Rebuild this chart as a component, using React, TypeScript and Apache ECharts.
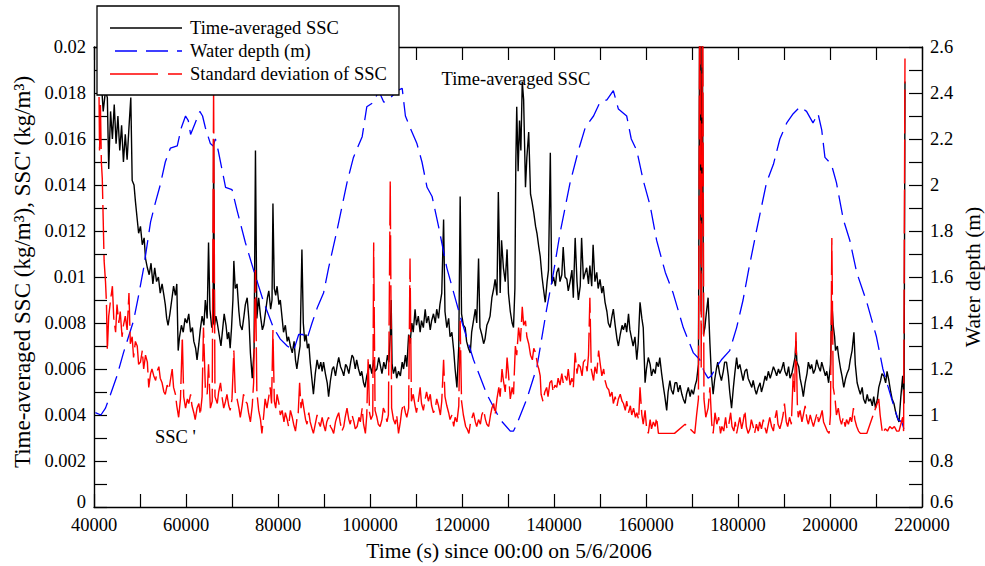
import React, { useEffect, useRef } from "react";
import * as echarts from "echarts";

// Time-averaged SSC (kg/m^3): [time (s), value]
const SSC: [number, number][] = [
  [41000, 0.0195], [41500, 0.0188], [42000, 0.0172], [42500, 0.0181], [42900, 0.0178], [43200, 0.0147],
  [43600, 0.0172], [44000, 0.016], [44400, 0.0175], [44800, 0.0158], [45200, 0.017], [45600, 0.0155],
  [46000, 0.0166], [46400, 0.015], [46800, 0.0162], [47200, 0.0151], [47600, 0.0165], [48000, 0.0178],
  [48300, 0.0142], [48700, 0.014], [49000, 0.0133], [49400, 0.0125], [49700, 0.0119], [50100, 0.0122],
  [50500, 0.0114], [50900, 0.0117], [51200, 0.0108], [51600, 0.0104], [52000, 0.0101], [52400, 0.0106],
  [52800, 0.0097], [53200, 0.0104], [53600, 0.0098], [54000, 0.01], [54400, 0.0093], [54800, 0.0097],
  [55200, 0.0092], [55500, 0.0088], [55800, 0.0082], [56100, 0.0079], [56500, 0.0084], [56900, 0.009],
  [57300, 0.0096], [57700, 0.0092], [58000, 0.0097], [58300, 0.0068], [58600, 0.0074], [59000, 0.0079],
  [59400, 0.0076], [59800, 0.0082], [60200, 0.008], [60600, 0.0084], [61000, 0.0076], [61400, 0.0078],
  [61700, 0.0072], [62100, 0.0069], [62400, 0.0064], [62800, 0.0071], [63100, 0.0077], [63500, 0.0083],
  [63900, 0.0079], [64200, 0.009], [64600, 0.0082], [64900, 0.0115], [65200, 0.0086], [65600, 0.0078],
  [65900, 0.008], [66000, 0.016], [66200, 0.0079], [66500, 0.0083], [66800, 0.008], [67200, 0.0075],
  [67600, 0.007], [68000, 0.0078], [68300, 0.0084], [68700, 0.0079], [69000, 0.0073], [69300, 0.0076],
  [69600, 0.0069], [69900, 0.0078], [70200, 0.009], [70400, 0.0107], [70700, 0.0095], [71100, 0.0097],
  [71500, 0.0085], [71800, 0.0079], [72200, 0.0077], [72600, 0.0083], [72900, 0.0088], [73300, 0.0091],
  [73700, 0.0081], [74000, 0.0067], [74400, 0.0056], [74800, 0.0068], [75100, 0.0155], [75400, 0.0082],
  [75800, 0.0091], [76200, 0.0083], [76600, 0.0077], [76900, 0.0079], [77300, 0.0085], [77700, 0.0091],
  [78000, 0.0094], [78400, 0.0086], [78700, 0.009], [78900, 0.0132], [79200, 0.0095], [79500, 0.0092],
  [79800, 0.0096], [80200, 0.0088], [80500, 0.009], [80900, 0.0082], [81200, 0.0076], [81600, 0.0079],
  [82000, 0.0072], [82300, 0.0074], [82700, 0.007], [83100, 0.0067], [83500, 0.0072], [83800, 0.0064],
  [84100, 0.006], [84500, 0.0066], [84800, 0.007], [85200, 0.0112], [85500, 0.008], [85800, 0.0072],
  [86100, 0.0075], [86400, 0.0069], [86700, 0.0071], [87000, 0.0063], [87400, 0.0055], [87700, 0.0049],
  [88100, 0.0058], [88500, 0.0064], [88900, 0.006], [89300, 0.0063], [89600, 0.0059], [89900, 0.0063],
  [90300, 0.0058], [90700, 0.0054], [91000, 0.0048], [91400, 0.0055], [91800, 0.006], [92100, 0.0061],
  [92500, 0.0057], [92900, 0.0062], [93200, 0.0065], [93600, 0.0061], [94000, 0.0059], [94300, 0.0057],
  [94700, 0.0062], [95000, 0.0061], [95400, 0.0058], [95800, 0.0063], [96100, 0.0066], [96400, 0.0065],
  [96800, 0.006], [97100, 0.0064], [97500, 0.006], [97900, 0.0057], [98200, 0.0059], [98600, 0.0054],
  [98900, 0.0052], [99300, 0.0057], [99700, 0.006], [100000, 0.0062], [100400, 0.0058], [100800, 0.0064],
  [101100, 0.0059], [101500, 0.006], [101900, 0.0065], [102300, 0.0061], [102600, 0.0058], [103000, 0.0063],
  [103400, 0.006], [103800, 0.0066], [104100, 0.0063], [104400, 0.0075], [104600, 0.009], [104800, 0.0062],
  [105100, 0.0058], [105500, 0.0061], [105800, 0.0056], [106200, 0.0059], [106600, 0.0057], [107000, 0.0063],
  [107300, 0.006], [107700, 0.0066], [108000, 0.0061], [108400, 0.0075], [108700, 0.0071], [109100, 0.008],
  [109400, 0.0076], [109800, 0.0086], [110100, 0.0079], [110500, 0.0083], [110900, 0.0076], [111200, 0.0081],
  [111600, 0.0078], [112000, 0.0086], [112300, 0.008], [112700, 0.0083], [113100, 0.0077], [113400, 0.0081],
  [113800, 0.0084], [114200, 0.008], [114500, 0.0086], [114900, 0.0082], [115200, 0.0088], [115600, 0.0093],
  [116000, 0.0125], [116300, 0.0085], [116700, 0.0078], [117100, 0.0082], [117400, 0.0074], [117800, 0.0076],
  [118200, 0.0068], [118500, 0.006], [118900, 0.0052], [119300, 0.007], [119600, 0.0135], [119900, 0.0084],
  [120300, 0.0079], [120700, 0.0078], [121000, 0.0072], [121400, 0.0069], [121800, 0.0067], [122100, 0.0076],
  [122500, 0.0081], [122900, 0.0086], [123200, 0.008], [123600, 0.0108], [123900, 0.0078], [124300, 0.0075],
  [124700, 0.0071], [125000, 0.0073], [125400, 0.0079], [125800, 0.0081], [126100, 0.0083], [126500, 0.0091],
  [126900, 0.0095], [127200, 0.0099], [127600, 0.0092], [127900, 0.0137], [128300, 0.0093], [128600, 0.0116],
  [129000, 0.0104], [129400, 0.0098], [129800, 0.0112], [130100, 0.0093], [130500, 0.0085], [130900, 0.008],
  [131200, 0.0078], [131500, 0.0095], [131700, 0.015], [131900, 0.0174], [132200, 0.0146], [132500, 0.0168],
  [132800, 0.0155], [133100, 0.0185], [133400, 0.0177], [133600, 0.0158], [133800, 0.0139], [134100, 0.0152],
  [134500, 0.0163], [134900, 0.0136], [135200, 0.0133], [135600, 0.0128], [136000, 0.0122], [136300, 0.0119],
  [136700, 0.0113], [137000, 0.0109], [137400, 0.01], [137700, 0.0095], [138100, 0.0089], [138500, 0.0098],
  [138800, 0.0103], [139200, 0.0154], [139500, 0.0097], [139900, 0.01], [140300, 0.0096], [140600, 0.0102],
  [141000, 0.0104], [141300, 0.0098], [141700, 0.0101], [142000, 0.0113], [142400, 0.01], [142800, 0.0099],
  [143100, 0.0094], [143500, 0.0098], [143900, 0.0103], [144200, 0.0091], [144600, 0.0117], [145000, 0.0098],
  [145300, 0.009], [145700, 0.0096], [146000, 0.0117], [146400, 0.0099], [146800, 0.0102], [147100, 0.0104],
  [147500, 0.0097], [147800, 0.0105], [148200, 0.0096], [148500, 0.0114], [148900, 0.0098], [149300, 0.0102],
  [149600, 0.0095], [150000, 0.0099], [150400, 0.0093], [150700, 0.0096], [151100, 0.0089], [151500, 0.0085],
  [151800, 0.008], [152200, 0.0078], [152600, 0.0083], [152900, 0.0086], [153300, 0.0079], [153700, 0.0073],
  [154000, 0.007], [154400, 0.0075], [154800, 0.0079], [155100, 0.0077], [155500, 0.008], [155800, 0.0076],
  [156200, 0.0084], [156500, 0.0077], [156900, 0.0073], [157200, 0.007], [157600, 0.0074], [158000, 0.0064],
  [158300, 0.0071], [158700, 0.0089], [159100, 0.0082], [159400, 0.0078], [159800, 0.0054], [160100, 0.006],
  [160500, 0.0065], [160900, 0.0062], [161200, 0.0057], [161600, 0.006], [162000, 0.0058], [162300, 0.0063],
  [162700, 0.0061], [163000, 0.0065], [163400, 0.0058], [163800, 0.0052], [164100, 0.0048], [164500, 0.0042],
  [164800, 0.005], [165200, 0.0055], [165500, 0.0051], [165900, 0.0049], [166300, 0.0054], [166700, 0.0054],
  [167000, 0.005], [167400, 0.0053], [167800, 0.0049], [168100, 0.0047], [168500, 0.0045], [168800, 0.0049],
  [169200, 0.0052], [169600, 0.0048], [169900, 0.0051], [170300, 0.0049], [170700, 0.0053], [171000, 0.0055],
  [171400, 0.0062], [171700, 0.024], [172000, 0.0085], [172200, 0.024], [172500, 0.0075], [172800, 0.0078],
  [173100, 0.0084], [173500, 0.0091], [173900, 0.0071], [174200, 0.0058], [174600, 0.0049], [174900, 0.0055],
  [175300, 0.006], [175600, 0.0063], [176000, 0.0058], [176400, 0.0055], [176800, 0.0059], [177100, 0.0063],
  [177500, 0.0063], [177900, 0.0057], [178200, 0.005], [178600, 0.0043], [179000, 0.0052], [179300, 0.0058],
  [179700, 0.0065], [180000, 0.006], [180400, 0.0062], [180800, 0.0058], [181100, 0.0055], [181500, 0.0059],
  [181900, 0.006], [182200, 0.0056], [182600, 0.0054], [183000, 0.0052], [183300, 0.0055], [183700, 0.0051],
  [184000, 0.0049], [184400, 0.0052], [184800, 0.0054], [185100, 0.005], [185500, 0.0053], [185900, 0.0057],
  [186200, 0.0055], [186600, 0.0059], [187000, 0.0056], [187300, 0.0058], [187700, 0.0061], [188100, 0.0059],
  [188400, 0.0057], [188800, 0.006], [189100, 0.0058], [189500, 0.006], [189900, 0.0063], [190200, 0.0059],
  [190600, 0.0057], [191000, 0.0061], [191300, 0.0056], [191700, 0.0058], [192100, 0.0062], [192400, 0.0065],
  [192600, 0.0072], [192800, 0.0063], [193200, 0.0061], [193500, 0.0056], [193900, 0.0052], [194200, 0.0048],
  [194600, 0.0054], [195000, 0.0058], [195300, 0.0063], [195700, 0.006], [196000, 0.0062], [196400, 0.0058],
  [196800, 0.006], [197100, 0.0064], [197500, 0.0061], [197900, 0.0059], [198200, 0.0063], [198600, 0.006],
  [199000, 0.0057], [199300, 0.0059], [199700, 0.0054], [200100, 0.0062], [200400, 0.0089], [200700, 0.0079],
  [201000, 0.0074], [201200, 0.0068], [201600, 0.007], [201900, 0.0065], [202300, 0.006], [202600, 0.0057],
  [203000, 0.0052], [203400, 0.0056], [203700, 0.0058], [204100, 0.006], [204400, 0.0064], [204800, 0.0068],
  [205200, 0.0076], [205500, 0.0062], [205900, 0.0054], [206300, 0.0051], [206600, 0.0049], [207000, 0.0052],
  [207300, 0.0047], [207700, 0.0045], [208100, 0.0049], [208400, 0.0046], [208800, 0.0047], [209200, 0.0044],
  [209500, 0.0048], [209900, 0.0043], [210300, 0.0047], [210600, 0.0052], [211000, 0.0055], [211300, 0.0058],
  [211700, 0.0057], [212100, 0.0054], [212400, 0.0059], [212800, 0.0055], [213200, 0.005], [213500, 0.0047],
  [213900, 0.0045], [214300, 0.0041], [214600, 0.0039], [215000, 0.0037], [215400, 0.0048], [215800, 0.0057],
  [216100, 0.0045], [216300, 0.0185],
];

// Water depth (m): [time (s), depth]
const DEPTH: [number, number][] = [
  [40300, 1.01], [41500, 1.0], [42500, 1.03], [43600, 1.09], [45000, 1.17], [46400, 1.27], [47500, 1.34],
  [48600, 1.41], [49700, 1.52], [50800, 1.64], [52300, 1.84], [53300, 1.92], [54400, 2.0], [55500, 2.1],
  [56600, 2.16], [58100, 2.17], [59000, 2.25], [59900, 2.3], [60500, 2.28], [61000, 2.22], [62000, 2.27],
  [63000, 2.32], [63600, 2.3], [64200, 2.25], [65300, 2.18], [65900, 2.17], [66400, 2.2], [67000, 2.15],
  [67800, 2.07], [68600, 1.99], [70000, 1.98], [71100, 1.89], [72900, 1.75], [74700, 1.63], [76900, 1.49],
  [79000, 1.38], [80500, 1.33], [82000, 1.3], [83400, 1.28], [84500, 1.35], [85400, 1.35], [86300, 1.33],
  [87400, 1.4], [88600, 1.47], [89900, 1.53], [91000, 1.64], [92800, 1.8], [95000, 2.01], [96400, 2.12],
  [98300, 2.21], [99300, 2.34], [100800, 2.36], [101900, 2.41], [103000, 2.36], [104500, 2.38], [105900, 2.41],
  [107000, 2.42], [107700, 2.3], [108700, 2.25], [110200, 2.18], [111300, 2.1], [112400, 1.99], [113500, 1.95],
  [114900, 1.82], [116700, 1.64], [119600, 1.43], [122500, 1.24], [125400, 1.09], [128300, 0.98], [130500, 0.93],
  [131200, 0.93], [131900, 0.96], [134100, 1.07], [136300, 1.21], [138400, 1.46], [139900, 1.62], [141300, 1.79],
  [143500, 2.01], [145300, 2.15], [146800, 2.25], [148600, 2.3], [150000, 2.36], [151500, 2.37], [152900, 2.41],
  [154000, 2.33], [155800, 2.3], [156800, 2.2], [158000, 2.15], [159400, 2.02], [160900, 1.91], [162300, 1.76],
  [164200, 1.62], [165900, 1.53], [168100, 1.38], [170300, 1.27], [171700, 1.24], [172600, 1.19], [173500, 1.16],
  [174200, 1.17], [175000, 1.2], [176400, 1.24], [178200, 1.28], [179700, 1.38], [181100, 1.5], [182300, 1.63],
  [184000, 1.8], [186200, 2.01], [187700, 2.09], [189100, 2.2], [190600, 2.27], [192000, 2.31], [193500, 2.34],
  [194900, 2.32], [196300, 2.27], [197400, 2.31], [198200, 2.24], [198900, 2.12], [200300, 2.09], [201400, 2.01],
  [202900, 1.85], [204300, 1.76], [205800, 1.62], [208000, 1.49], [210100, 1.34], [211500, 1.2], [213400, 1.07],
  [214800, 0.98], [215600, 0.97], [216200, 0.93],
];

// Standard deviation of SSC (kg/m^3): [time (s), value]
const SSC_SD: [number, number][] = [
  [41000, 0.02], [41200, 0.0155], [41400, 0.0175], [41600, 0.015], [41800, 0.0143], [42000, 0.0125],
  [42200, 0.0107], [42500, 0.0098], [42700, 0.0089], [42900, 0.0068], [43200, 0.0083], [43600, 0.009],
  [44000, 0.0096], [44300, 0.0082], [44700, 0.0076], [45000, 0.0088], [45400, 0.008], [45700, 0.0085],
  [46100, 0.0074], [46400, 0.0079], [46800, 0.0083], [47200, 0.0077], [47600, 0.0093], [47900, 0.0071],
  [48300, 0.0074], [48600, 0.0065], [49000, 0.0072], [49400, 0.007], [49700, 0.0062], [50100, 0.0063],
  [50500, 0.0068], [50800, 0.006], [51200, 0.0066], [51600, 0.0063], [51900, 0.0052], [52300, 0.0058],
  [52600, 0.006], [53000, 0.0057], [53400, 0.0055], [53700, 0.0059], [54100, 0.0061], [54400, 0.0056],
  [54800, 0.0054], [55200, 0.005], [55500, 0.0049], [55900, 0.0053], [56300, 0.0051], [56600, 0.0055],
  [57000, 0.006], [57300, 0.0052], [57700, 0.0049], [58000, 0.0044], [58400, 0.0039], [58800, 0.0047],
  [59200, 0.0074], [59500, 0.0048], [59900, 0.0043], [60300, 0.0047], [60600, 0.0045], [61000, 0.0049],
  [61300, 0.0044], [61700, 0.0041], [62000, 0.0038], [62400, 0.0043], [62800, 0.0045], [63100, 0.004],
  [63500, 0.0048], [63800, 0.0078], [64200, 0.0052], [64600, 0.0049], [64900, 0.0062], [65300, 0.0043],
  [65700, 0.0046], [66000, 0.0183], [66300, 0.0048], [66800, 0.0045], [67100, 0.005], [67500, 0.0054],
  [67900, 0.0047], [68200, 0.0043], [68600, 0.0046], [68900, 0.0049], [69300, 0.0044], [69600, 0.0042],
  [70000, 0.0047], [70400, 0.0068], [70700, 0.005], [71100, 0.0047], [71500, 0.0043], [71800, 0.0039],
  [72200, 0.0044], [72500, 0.0049], [72900, 0.0046], [73300, 0.0045], [73600, 0.0041], [74000, 0.0037],
  [74400, 0.0044], [74700, 0.0054], [75100, 0.0103], [75400, 0.005], [75800, 0.0042], [76200, 0.0038],
  [76500, 0.0032], [76900, 0.004], [77200, 0.0047], [77600, 0.0043], [78000, 0.0048], [78300, 0.0052],
  [78600, 0.0045], [78900, 0.0077], [79200, 0.0046], [79500, 0.0043], [79800, 0.0049], [80200, 0.0045],
  [80500, 0.004], [80900, 0.0042], [81300, 0.0037], [81600, 0.0041], [82000, 0.0038], [82300, 0.0035],
  [82700, 0.0042], [83100, 0.0039], [83400, 0.0036], [83800, 0.0033], [84100, 0.0038], [84400, 0.0041],
  [84700, 0.0054], [85000, 0.0043], [85300, 0.0047], [85600, 0.0043], [86000, 0.0038], [86300, 0.0036],
  [86700, 0.0041], [87000, 0.0037], [87400, 0.0034], [87700, 0.0032], [88100, 0.0036], [88500, 0.004],
  [88800, 0.0037], [89200, 0.0035], [89600, 0.0039], [89900, 0.0036], [90300, 0.0033], [90600, 0.0037],
  [91000, 0.0039], [91400, 0.0035], [91700, 0.0034], [92100, 0.0032], [92500, 0.0037], [92800, 0.0039],
  [93200, 0.0041], [93500, 0.0037], [93900, 0.0033], [94300, 0.0035], [94600, 0.0039], [95000, 0.0043],
  [95400, 0.0038], [95700, 0.0036], [96100, 0.004], [96500, 0.0037], [96800, 0.0034], [97200, 0.0035],
  [97600, 0.0039], [97900, 0.0037], [98300, 0.0043], [98600, 0.0036], [99000, 0.0032], [99300, 0.004],
  [99600, 0.0065], [99900, 0.0041], [100200, 0.0038], [100600, 0.004], [100800, 0.0115], [101100, 0.0042],
  [101500, 0.0039], [101800, 0.0036], [102200, 0.0035], [102600, 0.0038], [102900, 0.0043], [103300, 0.0041],
  [103700, 0.0037], [104000, 0.004], [104400, 0.0142], [104700, 0.0043], [105100, 0.0038], [105500, 0.0036],
  [105800, 0.004], [106200, 0.0032], [106600, 0.0037], [106900, 0.0042], [107300, 0.0045], [107700, 0.0041],
  [108000, 0.0039], [108400, 0.0043], [108700, 0.0108], [109000, 0.0046], [109400, 0.0049], [109800, 0.0044],
  [110100, 0.0041], [110500, 0.0046], [110900, 0.0052], [111200, 0.0045], [111600, 0.0042], [112000, 0.0047],
  [112300, 0.005], [112700, 0.0046], [113100, 0.0049], [113400, 0.0044], [113800, 0.0041], [114200, 0.0043],
  [114500, 0.0047], [114900, 0.0044], [115300, 0.004], [115600, 0.0046], [116000, 0.0064], [116300, 0.0048],
  [116700, 0.0044], [117100, 0.0041], [117400, 0.0038], [117800, 0.004], [118200, 0.0035], [118500, 0.0039],
  [118900, 0.0037], [119300, 0.0044], [119600, 0.0081], [119900, 0.0046], [120300, 0.004], [120800, 0.0035],
  [121100, 0.0034], [121500, 0.0032], [121800, 0.0036], [122200, 0.0039], [122500, 0.0041], [122900, 0.0037],
  [123200, 0.0035], [123600, 0.0038], [124000, 0.0036], [124300, 0.004], [124700, 0.0042], [125100, 0.0038],
  [125400, 0.0036], [125800, 0.0035], [126200, 0.004], [126500, 0.0043], [126900, 0.0045], [127200, 0.004],
  [127600, 0.0047], [128000, 0.0052], [128300, 0.0048], [128700, 0.006], [129000, 0.0055], [129400, 0.005],
  [129800, 0.0065], [130100, 0.0058], [130500, 0.0047], [130900, 0.0052], [131200, 0.0049], [131600, 0.007],
  [131900, 0.0066], [132300, 0.0078], [132700, 0.0072], [133100, 0.0087], [133400, 0.0079], [133800, 0.0081],
  [134100, 0.0074], [134500, 0.0071], [134900, 0.0066], [135300, 0.0064], [135600, 0.0069], [136000, 0.0067],
  [136400, 0.0062], [136700, 0.006], [137000, 0.0057], [137200, 0.0049], [137600, 0.0046], [138000, 0.005],
  [138400, 0.0052], [138700, 0.0048], [139100, 0.0054], [139500, 0.0055], [139800, 0.005], [140200, 0.0053],
  [140600, 0.0052], [140900, 0.0056], [141300, 0.0053], [141700, 0.0058], [142000, 0.0054], [142400, 0.0057],
  [142800, 0.0055], [143100, 0.006], [143500, 0.0053], [143900, 0.0056], [144200, 0.0052], [144600, 0.0067],
  [145000, 0.0058], [145300, 0.0062], [145700, 0.0061], [146100, 0.0057], [146400, 0.0063], [146800, 0.0064],
  [147200, 0.0059], [147500, 0.0066], [147800, 0.0091], [148100, 0.006], [148600, 0.0055], [148900, 0.0061],
  [149300, 0.0058], [149700, 0.0068], [150000, 0.0063], [150400, 0.0057], [150800, 0.006], [151100, 0.0055],
  [151500, 0.0052], [151900, 0.0051], [152200, 0.0048], [152600, 0.005], [152900, 0.0045], [153300, 0.0048],
  [153700, 0.0044], [154000, 0.0047], [154400, 0.0049], [154800, 0.0046], [155100, 0.0045], [155500, 0.0042],
  [155800, 0.0046], [156200, 0.0041], [156600, 0.0044], [156900, 0.004], [157300, 0.0043], [157700, 0.0039],
  [158000, 0.0041], [158400, 0.0038], [158700, 0.0052], [159100, 0.004], [159400, 0.0036], [159800, 0.0042],
  [160100, 0.0035], [160500, 0.0032], [160900, 0.0038], [161200, 0.0034], [161600, 0.0037], [162000, 0.0035],
  [162300, 0.0039], [162700, 0.0032], [166200, 0.0032], [168500, 0.0036], [170600, 0.0032], [171000, 0.004],
  [171400, 0.0047], [171700, 0.024], [172000, 0.006], [172300, 0.024], [172600, 0.0047], [173000, 0.0039],
  [173500, 0.0043], [173900, 0.0052], [174300, 0.0036], [174600, 0.0032], [175000, 0.0041], [175400, 0.0036],
  [175800, 0.0039], [176200, 0.0032], [176500, 0.0035], [176900, 0.0033], [177300, 0.0039], [177600, 0.0034],
  [178000, 0.0036], [178400, 0.0041], [178700, 0.0035], [179100, 0.0033], [179400, 0.0037], [179700, 0.0032],
  [180100, 0.0036], [180400, 0.0039], [180800, 0.0034], [181100, 0.0037], [181500, 0.0042], [181800, 0.0035],
  [182200, 0.0032], [182600, 0.0034], [182900, 0.0038], [183300, 0.0035], [183600, 0.0032], [184000, 0.0036],
  [184400, 0.0033], [184700, 0.0037], [185100, 0.0034], [185500, 0.0038], [185800, 0.0035], [186200, 0.0032],
  [186600, 0.0036], [186900, 0.0039], [187300, 0.0035], [187700, 0.0033], [188000, 0.0038], [188400, 0.0042],
  [188700, 0.0036], [189100, 0.0034], [189500, 0.0037], [189800, 0.004], [190100, 0.0045], [190500, 0.0037],
  [190800, 0.0035], [191200, 0.0039], [191600, 0.0036], [192000, 0.0058], [192300, 0.005], [192600, 0.0076],
  [192900, 0.0045], [193100, 0.0039], [193500, 0.0042], [193900, 0.0037], [194200, 0.004], [194600, 0.0044],
  [195000, 0.0038], [195300, 0.0036], [195700, 0.004], [196100, 0.0037], [196400, 0.0035], [196800, 0.0038],
  [197200, 0.0041], [197500, 0.0037], [197900, 0.0039], [198300, 0.0042], [198600, 0.0037], [199000, 0.0035],
  [199400, 0.0033], [199800, 0.0032], [200100, 0.004], [200400, 0.0117], [200700, 0.0052], [201100, 0.0047],
  [201400, 0.004], [201800, 0.0043], [202200, 0.0038], [202500, 0.0036], [202900, 0.0039], [203300, 0.0035],
  [203600, 0.0038], [204000, 0.0036], [204400, 0.0039], [204700, 0.0037], [205100, 0.0043], [205400, 0.0038],
  [205800, 0.0035], [206200, 0.0033], [206600, 0.0032], [208000, 0.0032], [210600, 0.0047], [210900, 0.004],
  [211400, 0.0032], [212000, 0.0034], [212500, 0.0033], [213000, 0.0035], [213500, 0.0034], [214000, 0.0035],
  [214500, 0.0033], [215000, 0.0033], [215400, 0.0036], [215800, 0.0039], [216000, 0.0033], [216300, 0.0195],
];

const X_MIN = 40000;
const X_MAX = 220000;
const X_STEP = 20000;
const Y_MIN = 0;
const Y_MAX = 0.02;
const Y_STEP = 0.002;
const Y2_MIN = 0.6;
const Y2_MAX = 2.6;
const Y2_STEP = 0.2;

const LEGEND_LABELS = ["Time-averaged SSC", "Water depth (m)", "Standard deviation of SSC"];
const X_TITLE = "Time (s) since 00:00 on 5/6/2006";
const Y_TITLE = "Time-averaged SSC (kg/m³), SSC' (kg/m³)";
const Y2_TITLE = "Water depth (m)";
const NOTE_TOP = "Time-averaged SSC";
const NOTE_BOTTOM = "SSC '";

const FONT = '"Liberation Serif", "Times New Roman", serif';
const TICK_FS = 18.5;
const TITLE_FS = 21.5;
const YTITLE_FS = 23;

export default function App() {
  const ref = useRef<HTMLDivElement>(null);
  useEffect(() => {
    if (!ref.current) return;
    const chart = echarts.init(ref.current, undefined, { renderer: "svg" });

    const axisLine = { show: true, lineStyle: { color: "#000", width: 1.4 } };
    const tick = { show: true, inside: true, length: 13, lineStyle: { color: "#000", width: 1.2 } };
    const minor = { show: true, splitNumber: 2, length: 13, lineStyle: { color: "#000", width: 1.2 } };
    const fmt = (v: number) => String(+v.toFixed(6));
    const label = {
      color: "#000",
      fontFamily: FONT,
      fontSize: TICK_FS,
      lineHeight: 15,
      formatter: fmt,
    };
    // the lowest y labels sit a little above their tick so they clear the x labels
    const lowRich = {
      lo: { color: "#000", fontFamily: FONT, fontSize: TICK_FS, lineHeight: 15, padding: [0, 0, 10, 0] },
    };
    const Z = 100;

    const option: any = {
      animation: false,
      backgroundColor: "#fff",
      grid: { left: 94, right: 63, top: 47, bottom: 59, containLabel: false },
      xAxis: [
        {
          type: "value",
          min: X_MIN,
          max: X_MAX,
          interval: X_STEP,
          position: "bottom",
          axisLine,
          axisTick: tick,
          minorTick: minor,
          splitLine: { show: false },
          axisLabel: { ...label, margin: 10 },
        },
        {
          type: "value",
          min: X_MIN,
          max: X_MAX,
          interval: X_STEP,
          position: "top",
          axisLine,
          axisTick: tick,
          minorTick: minor,
          splitLine: { show: false },
          axisLabel: { show: false },
        },
      ],
      yAxis: [
        {
          type: "value",
          min: Y_MIN,
          max: Y_MAX,
          interval: Y_STEP,
          position: "left",
          axisLine,
          axisTick: tick,
          minorTick: minor,
          splitLine: { show: false },
          axisLabel: {
            ...label,
            margin: 8,
            rich: lowRich,
            formatter: (v: number) => (v === Y_MIN ? `{lo|${fmt(v)}}` : fmt(v)),
          },
        },
        {
          type: "value",
          min: Y2_MIN,
          max: Y2_MAX,
          interval: Y2_STEP,
          position: "right",
          axisLine,
          axisTick: tick,
          minorTick: minor,
          splitLine: { show: false },
          axisLabel: {
            ...label,
            margin: 8,
            rich: lowRich,
            formatter: (v: number) => (Math.abs(v - Y2_MIN) < 1e-9 ? `{lo|${fmt(v)}}` : fmt(v)),
          },
        },
      ],
      series: [
        {
          name: LEGEND_LABELS[0],
          type: "line",
          data: SSC,
          xAxisIndex: 0,
          yAxisIndex: 0,
          showSymbol: false,
          symbol: "none",
          clip: true,
          lineStyle: { color: "#000", width: 1.4 },
          z: 2,
        },
        {
          name: LEGEND_LABELS[1],
          type: "line",
          data: DEPTH,
          xAxisIndex: 0,
          yAxisIndex: 1,
          showSymbol: false,
          symbol: "none",
          clip: true,
          lineStyle: { color: "#0000ff", width: 1.3, type: [20, 8] },
          z: 3,
        },
        {
          name: LEGEND_LABELS[2],
          type: "line",
          data: SSC_SD,
          xAxisIndex: 0,
          yAxisIndex: 0,
          showSymbol: false,
          symbol: "none",
          clip: true,
          lineStyle: { color: "#ff0000", width: 1.4, type: [44, 6] },
          z: 4,
        },
      ],
      graphic: [
        {
          type: "text",
          x: 22,
          y: 272,
          rotation: Math.PI / 2,
          style: { text: Y_TITLE, font: `${YTITLE_FS}px ${FONT}`, fill: "#000", align: "center", verticalAlign: "middle" },
        },
        {
          type: "text",
          x: 973,
          y: 277,
          rotation: Math.PI / 2,
          style: { text: Y2_TITLE, font: `${TITLE_FS}px ${FONT}`, fill: "#000", align: "center", verticalAlign: "middle" },
        },
        {
          type: "text",
          x: 509,
          y: 551,
          style: { text: X_TITLE, font: `${TITLE_FS}px ${FONT}`, fill: "#000", align: "center", verticalAlign: "middle" },
        },
        {
          type: "text",
          x: 516,
          y: 79,
          z: 50,
          style: { text: NOTE_TOP, font: `${TICK_FS}px ${FONT}`, fill: "#000", align: "center", verticalAlign: "middle" },
        },
        {
          type: "text",
          x: 155,
          y: 437,
          z: 50,
          style: { text: NOTE_BOTTOM, font: `${TICK_FS}px ${FONT}`, fill: "#000", align: "left", verticalAlign: "middle" },
        },
        {
          type: "rect",
          z: Z,
          shape: { x: 97, y: 6, width: 302, height: 89 },
          style: { fill: "#fff", stroke: "#000", lineWidth: 1.3 },
        },
        {
          type: "line",
          z: Z + 1,
          shape: { x1: 110, y1: 28, x2: 182, y2: 28 },
          style: { stroke: "#000", lineWidth: 1.3 },
        },
        {
          type: "line",
          z: Z + 1,
          shape: { x1: 115, y1: 51, x2: 182, y2: 51 },
          style: { stroke: "#0000ff", lineWidth: 1.3, lineDash: [22, 9] },
        },
        {
          type: "line",
          z: Z + 1,
          shape: { x1: 110, y1: 74, x2: 182, y2: 74 },
          style: { stroke: "#ff0000", lineWidth: 1.3, lineDash: [48, 10] },
        },
        {
          type: "text",
          z: Z + 1,
          x: 190,
          y: 28,
          style: { text: LEGEND_LABELS[0], font: `${TICK_FS}px ${FONT}`, fill: "#000", verticalAlign: "middle" },
        },
        {
          type: "text",
          z: Z + 1,
          x: 190,
          y: 51,
          style: { text: LEGEND_LABELS[1], font: `${TICK_FS}px ${FONT}`, fill: "#000", verticalAlign: "middle" },
        },
        {
          type: "text",
          z: Z + 1,
          x: 190,
          y: 74,
          style: { text: LEGEND_LABELS[2], font: `${TICK_FS}px ${FONT}`, fill: "#000", verticalAlign: "middle" },
        },
      ],
    };

    chart.setOption(option);
    return () => chart.dispose();
  }, []);

  return (
    <div
      ref={ref}
      style={{ position: "fixed", left: 0, top: 0, width: 985, height: 566, background: "#fff" }}
    />
  );
}
